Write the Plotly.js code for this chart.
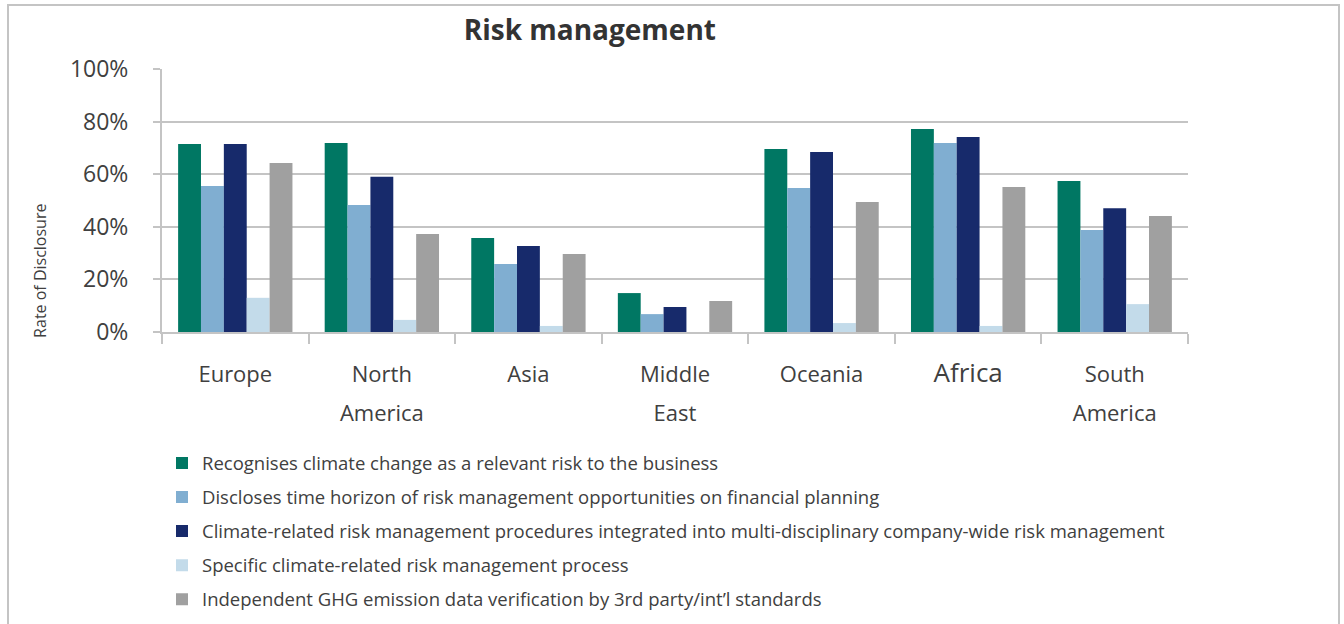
<!DOCTYPE html>
<html>
<head>
<meta charset="utf-8">
<script src="https://cdn.plot.ly/plotly-3.0.1.min.js"></script>
<style>
html,body{margin:0;padding:0;background:#fff;}
#chart{position:absolute;left:0;top:0;width:1344px;height:624px;}
#frame{position:absolute;left:7px;top:4px;width:1329px;height:640px;border:2px solid #c4c4c4;pointer-events:none;}
</style>
</head>
<body>
<div id="chart"></div>
<div id="frame"></div>
<script>
const categories = ["Europe","North America","Asia","Middle East","Oceania","Africa","South America"];
const tickLabels = ["Europe","North<br>America","Asia","Middle<br>East","Oceania","Africa","South<br>America"];
const yTickValues = [0, 20, 40, 60, 80, 100];
const yTickLabels = ["0%", "20%", "40%", "60%", "80%", "100%"];
const seriesNames = [
  "Recognises climate change as a relevant risk to the business",
  "Discloses time horizon of risk management opportunities on financial planning",
  "Climate-related risk management procedures integrated into multi-disciplinary company-wide risk management",
  "Specific climate-related risk management process",
  "Independent GHG emission data verification by 3rd party/int\u2019l standards"
];
const recognises   = [71.5, 71.9, 35.7, 14.8, 69.6, 77.2, 57.4];
const timeHorizon  = [55.5, 48.3, 25.9,  6.8, 54.8, 71.9, 38.8];
const integrated   = [71.5, 59.0, 32.7,  9.5, 68.4, 74.1, 47.1];
const specific     = [13.0,  4.6,  2.3,  0.0,  3.4,  2.3, 10.6];
const ghg          = [64.3, 37.3, 29.7, 11.8, 49.4, 55.1, 44.1];
const seriesValues = [recognises, timeHorizon, integrated, specific, ghg];
const colors = ["#007763","#80aed1","#172a6b","#c3dbea","#a0a0a0"];

const styledTicks = tickLabels.map(t => t === "Africa"
  ? '<span style="font-size:26px">' + t + '</span>'
  : '<span style="font-size:22px">' + t + '</span>');

const traces = seriesValues.map((vals, i) => ({
  type: "bar",
  name: seriesNames[i],
  x: categories,
  y: vals,
  marker: {color: colors[i]},
  legendgroup: "g" + i,
  hoverinfo: "x+y"
}));

const layout = {
  width: 1344, height: 624,
  margin: {l: 162, r: 156, t: 69, b: 292, autoexpand: false},
  paper_bgcolor: "#fff", plot_bgcolor: "#fff",
  font: {family: "Open Sans, sans-serif", color: "#404040"},
  title: {
    text: "<b>Risk management</b>",
    font: {size: 28, color: "#333333", family: "Open Sans, sans-serif"},
    xref: "paper", x: 0.417, xanchor: "center",
    yref: "container", y: 0.952, yanchor: "middle"
  },
  barmode: "group", bargap: 0.22, bargroupgap: 0,
  xaxis: {
    type: "category",
    tickvals: categories, ticktext: styledTicks,
    tickfont: {size: 30, color: "#404040"},
    tickson: "boundaries", ticks: "outside", ticklen: 10, tickwidth: 2, tickcolor: "#c4c4c4",
    ticklabelstandoff: 12,
    showline: true, linecolor: "#c4c4c4", linewidth: 2,
    showgrid: false, zeroline: false, fixedrange: true
  },
  yaxis: {
    range: [0, 100], tickmode: "array", tickvals: yTickValues, ticktext: yTickLabels,
    tickfont: {size: 23, color: "#404040"},
    ticks: "outside", ticklen: 7, tickwidth: 2, tickcolor: "#c4c4c4",
    ticklabelstandoff: 20,
    showgrid: true, gridcolor: "#c4c4c4", gridwidth: 2,
    showline: true, linecolor: "#c4c4c4", linewidth: 2,
    zeroline: false, fixedrange: true
  },
  annotations: [{
    text: "Rate of Disclosure", textangle: -90,
    xref: "paper", yref: "paper", x: -0.119, y: 0.232,
    xanchor: "center", yanchor: "middle", showarrow: false,
    font: {size: 16, color: "#404040"}
  }],
  legend: {
    orientation: "v", x: 0, xanchor: "left",
    yref: "container", y: 0.2877, yanchor: "top",
    font: {size: 18.5, color: "#404040"}, tracegroupgap: 7,
    bgcolor: "rgba(0,0,0,0)", traceorder: "grouped"
  },
  showlegend: true
};

Plotly.newPlot("chart", traces, layout, {displayModeBar: false, staticPlot: true});
</script>
</body>
</html>
